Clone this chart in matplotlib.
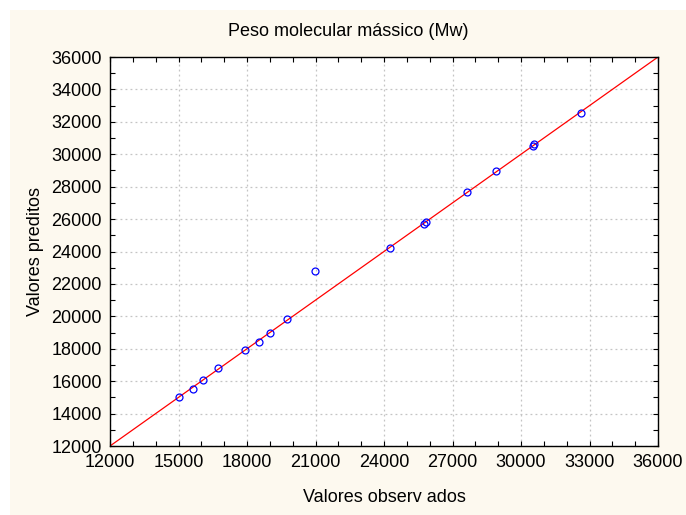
import matplotlib
matplotlib.use("Agg")
import matplotlib.pyplot as plt
from matplotlib.patches import Rectangle
from matplotlib.ticker import MultipleLocator

# Observed vs predicted weight-average molecular weight (Mw)
observed = [15040, 15650, 16080, 16750, 17900, 18510, 18990, 19760, 20980,
            24250, 25760, 25820, 27650, 28890, 30530, 30560, 32610]
predicted = [15030, 15540, 16060, 16800, 17930, 18420, 19000, 19810, 22820,
             24190, 25670, 25800, 27690, 28950, 30490, 30610, 32550]

line_range = [12000, 36000]
x_ticks = [12000, 15000, 18000, 21000, 24000, 27000, 30000, 33000, 36000]
y_ticks = list(range(12000, 36001, 2000))

title = "Peso molecular mássico (Mw)"
x_label = "Valores observ ados"
y_label = "Valores preditos"

plt.rcParams['font.family'] = ['Liberation Sans', 'DejaVu Sans']
FS = 13

fig = plt.figure(figsize=(6.86, 5.15), dpi=100, facecolor='white')
# cream panel behind the chart
fig.patches.append(Rectangle((10 / 686, 0), 1 - 10 / 686, 1 - 10 / 515,
                             transform=fig.transFigure, facecolor='#fdf9ef',
                             edgecolor='none', zorder=-10))

ax = fig.add_axes([110 / 686, 1 - 446 / 515, 548 / 686, 389 / 515])
ax.set_zorder(1)
ax.set_facecolor('white')

ax.plot(line_range, line_range, color='red', linewidth=0.9, zorder=2)
ax.plot(observed, predicted, linestyle='none', marker='o', markersize=5,
        markerfacecolor='none', markeredgecolor='blue', markeredgewidth=0.9,
        zorder=3)

ax.set_xlim(line_range)
ax.set_ylim(line_range)
ax.set_xticks(x_ticks)
ax.set_yticks(y_ticks)
ax.xaxis.set_minor_locator(MultipleLocator(1000))
ax.yaxis.set_minor_locator(MultipleLocator(1000))

ax.grid(True, which='major', color='#c4c4c4', linestyle=(0, (1.5, 2.5)),
        linewidth=0.9)
ax.set_axisbelow(True)

ax.tick_params(which='both', direction='in', top=True, right=True,
               length=3.5, width=0.8, color='black', labelsize=FS,
               labelcolor='black')
ax.tick_params(axis='x', pad=6)
ax.tick_params(axis='y', pad=6)
for s in ax.spines.values():
    s.set_linewidth(1.0)
    s.set_color('black')

fig.text(348 / 686, 1 - 32 / 515, title, fontsize=FS, ha='center', va='center')
ax.set_xlabel(x_label, fontsize=FS, labelpad=13)
ax.set_ylabel(y_label, fontsize=FS, labelpad=5)

fig.savefig("out.png", dpi=100, facecolor=fig.get_facecolor())
